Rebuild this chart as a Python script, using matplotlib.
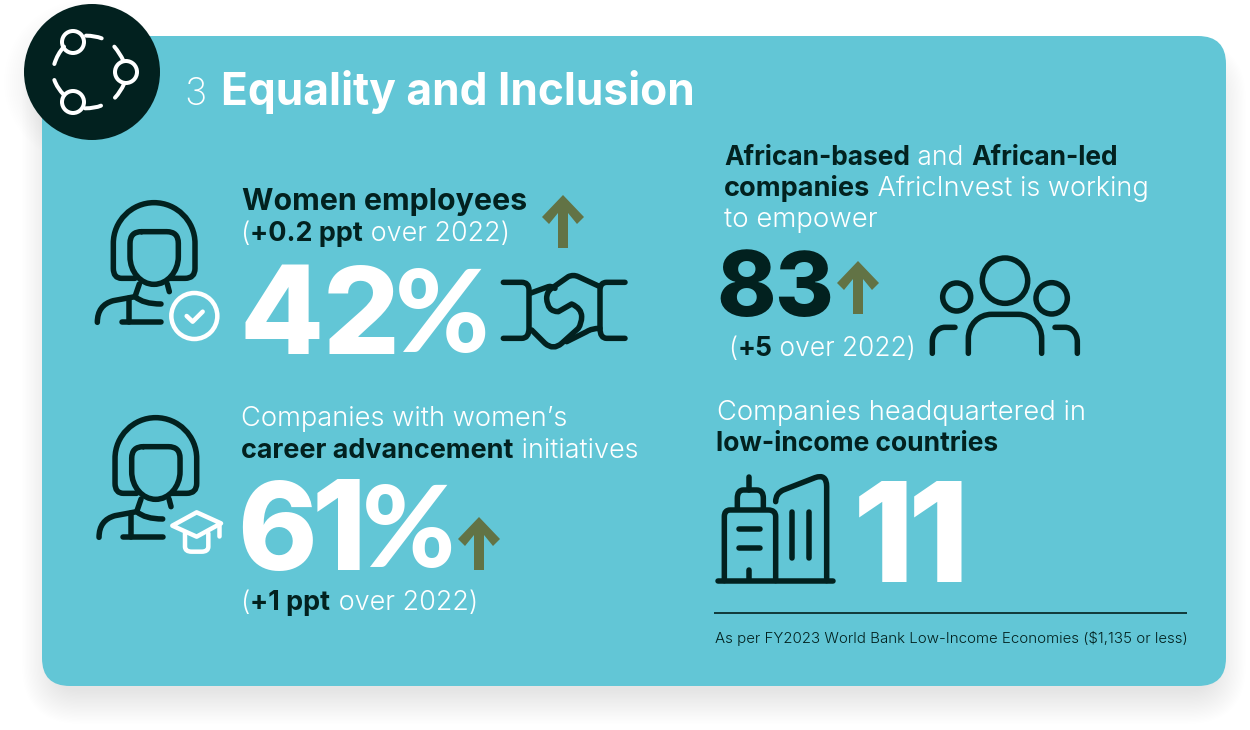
import matplotlib
matplotlib.use("Agg")
import matplotlib.pyplot as plt
from matplotlib.font_manager import FontProperties
from matplotlib.patches import FancyBboxPatch, Circle, PathPatch, Polygon
from matplotlib.path import Path
from matplotlib.text import Text
from matplotlib.textpath import TextPath

# ---- content ----
section_number = "3"
section_title = "Equality and Inclusion"
women_share = "42%"
advancement_share = "61%"
african_companies = "83"
low_income_companies = "11"
women_delta = "+0.2 ppt"
advancement_delta = "+1 ppt"
african_delta = "+5"
footnote = "As per FY2023 World Bank Low-Income Economies ($1,135 or less)"

# ---- colours ----
PANEL = "#62c6d6"
DARK = "#02211f"
ARROW = "#627345"
WHITE = "#ffffff"

BOLD = dict(family="Inter", weight=700)
LIGHT = dict(family="Inter", weight=300)
THIN = dict(family="Inter", weight=200)
HEAVY = dict(family="Inter", weight=800)
PCT = dict(family="Lato", weight=900)

fig = plt.figure(figsize=(12.5, 7.3), dpi=100, facecolor="white")
ax = fig.add_axes([0, 0, 1, 1])
ax.set_xlim(0, 1250)
ax.set_ylim(730, 0)
ax.axis("off")
renderer = fig.canvas.get_renderer()
PX = 72 / 100  # points per pixel


def measure(s, font):
    def w(t):
        o = Text(0, 0, t, fontsize=40, figure=fig, **font)
        return o.get_window_extent(renderer).width
    return w("H" + s + "H") - w("HH")


def line(x0, x1, base, runs, z=5):
    """runs = [(text, font, colour)...], fitted to span x0..x1 in pixels."""
    widths = [measure(t, f) for t, f, _ in runs]
    size = 40 * (x1 - x0) / sum(widths)
    x = x0
    for (t, f, c), wd in zip(runs, widths):
        ax.text(x, base, t, fontsize=size, color=c, va="baseline", ha="left", zorder=z, **f)
        x += wd * size / 40


def glyph(ch, font, color, left, right, top, base, fit_width=False):
    """One big character, sized from its ink height (or ink width) and placed by its ink left edge."""
    fp = FontProperties(family=font["family"], weight=font["weight"])
    ext = TextPath((0, 0), ch, size=100, prop=fp).get_extents()
    if fit_width:
        px_em = (right - left) / ext.width * 100
        off = ((base - top) - ext.height * px_em / 100) / 2
    else:
        px_em = (base - top) / ext.height * 100
        off = 0
    x = left - ext.x0 * px_em / 100
    ax.text(x, base - off, ch, fontsize=px_em * PX, color=color, va="baseline", ha="left", zorder=5, **font)


def big(value, color, lefts, rights, top, base):
    for ch, l, r in zip(value, lefts, rights):
        if ch == "%":
            glyph(ch, PCT, color, l, r, top, base, fit_width=True)
        else:
            glyph(ch, HEAVY, color, l, r, top, base)


def draw(segs, origin, color=DARK, lw=5.5, scale=1 / 3, closed=False, z=4):
    ox, oy = origin
    verts, codes = [], []
    for seg in segs:
        pts = [(ox + seg[i] * scale, oy + seg[i + 1] * scale) for i in range(0, len(seg), 2)]
        if not verts:
            verts.append(pts[0]); codes.append(Path.MOVETO)
        elif len(seg) == 2:
            verts.append(pts[0]); codes.append(Path.LINETO)
        elif len(seg) == 4:
            verts += pts; codes += [Path.CURVE3] * 2
        else:
            verts += pts; codes += [Path.CURVE4] * 3
    if closed:
        verts.append(verts[0]); codes.append(Path.CLOSEPOLY)
    ax.add_patch(PathPatch(Path(verts, codes), fill=False, edgecolor=color, lw=lw * 0.72,
                           capstyle="round", joinstyle="round", zorder=z))


def ring(cx, cy, r, color=DARK, lw=5.5, z=4):
    ax.add_patch(Circle((cx, cy), r, fill=False, edgecolor=color, lw=lw * 0.72, zorder=z))


def arrow(tip_x, tip_y):
    shape = [(0, 0), (21, 22), (14, 29), (5, 18), (5, 53), (-5, 53), (-5, 18), (-14, 29), (-21, 22)]
    ax.add_patch(Polygon([(tip_x + a, tip_y + b) for a, b in shape], closed=True,
                         facecolor=ARROW, edgecolor="none", zorder=4))


# ---- shadow, panel, badge ----
N = 26
for i in range(N):
    g = (N - i) * 1.3
    ax.add_patch(FancyBboxPatch((56 - g, 75 - g), 1156 + 2 * g, 615 + 2 * g,
                                boxstyle=f"round,pad=0,rounding_size={24 + g}",
                                facecolor="black", edgecolor="none", alpha=0.0045, zorder=1))
for i in range(12):
    g = (12 - i) * 2
    ax.add_patch(Circle((86, 82), 58 + g, facecolor="black", edgecolor="none", alpha=0.004, zorder=1))
ax.add_patch(FancyBboxPatch((42, 36), 1184, 650, boxstyle="round,pad=0,rounding_size=28",
                            facecolor=PANEL, edgecolor="none", zorder=2))
ax.add_patch(Circle((92, 72), 68, facecolor=DARK, edgecolor="none", zorder=3))

# badge icon (segments in 3x crop units)
for cx, cy in [(73, 42), (126, 72), (73, 102)]:
    ring(cx, cy, 11, WHITE, 4)
for s in [
    [(258, 107), (285, 107, 305, 115)],
    [(163, 192), (172, 162, 192, 140)],
    [(343, 140), (360, 160, 370, 182)],
    [(345, 293), (362, 275, 372, 252)],
    [(163, 240), (172, 265, 192, 285)],
    [(255, 325), (285, 325, 303, 317)],
]:
    draw(s, (0, 0), WHITE, 4)


# ---- woman icon ----
def woman(origin):
    draw([(165, 265), (125, 265), (100, 265, 100, 235), (100, 160), (100, 93, 155, 38, 222, 38),
          (290, 38, 345, 93, 345, 160), (345, 235), (345, 265, 315, 265), (270, 265)], origin)
    draw([(185, 125), (260, 125), (295, 125, 295, 160), (295, 200), (295, 245, 262, 283, 222, 283),
          (182, 283, 150, 245, 150, 200), (150, 160), (150, 125, 185, 125)], origin)
    draw([(178, 282), (165, 320), (190, 342, 243, 342)], origin)
    draw([(262, 282), (268, 305)], origin)
    draw([(52, 397), (52, 345, 100, 332), (165, 320)], origin)
    draw([(147, 325), (147, 395)], origin)
    draw([(125, 395), (243, 395)], origin)


o1 = (80, 190)
woman(o1)
ring(80 + 343 / 3, 190 + 378 / 3, 23, WHITE, 4.5)
draw([(320, 378), (338, 395), (368, 365)], o1, WHITE, 4.5)

o2 = (81.7, 405)
woman(o2)
oc = (85, 405)
draw([(262, 362), (335, 322), (408, 355), (335, 395)], oc, WHITE, 4.5, closed=True)
draw([(300, 385), (300, 425), (300, 440, 320, 440), (350, 440), (370, 440, 370, 425), (370, 385)], oc, WHITE, 4.5)
draw([(402, 355), (402, 392)], oc, WHITE, 4.5)

# ---- handshake ----
oh = (490, 180)
draw([(40, 307), (95, 307), (117, 307, 117, 330), (117, 445), (117, 475, 95, 475), (40, 475)], oh)
draw([(405, 307), (350, 307), (330, 307, 330, 330), (330, 445), (330, 475, 350, 475), (405, 475)], oh)
draw([(330, 320), (265, 290), (250, 283, 235, 290), (185, 325), (170, 335, 170, 355), (172, 395, 205, 395),
      (245, 372), (275, 385, 275, 410), (275, 430, 265, 445), (215, 490), (190, 512, 165, 490), (125, 450)], oh)
draw([(120, 340), (175, 320), (185, 317, 195, 325)], oh)
draw([(230, 485), (290, 455), (305, 445, 330, 445)], oh)

# ---- people ----
op = (920, 245)
ring(920 + 255 / 3, 245 + 107 / 3, 68 / 3)
ring(920 + 110 / 3, 245 + 156 / 3, 42 / 3)
ring(920 + 395 / 3, 245 + 160 / 3, 47 / 3)
draw([(145, 325), (145, 280), (145, 240, 175, 208, 215, 208), (295, 208), (335, 208, 365, 240, 365, 280), (365, 325)], op)
draw([(37, 325), (37, 290), (37, 265, 55, 247, 75, 247), (105, 247)], op)
draw([(405, 247), (435, 247), (455, 247, 472, 265, 472, 290), (472, 325)], op)

# ---- buildings ----
ob = (705, 465)
draw([(38, 347), (383, 347)], ob)
draw([(58, 347), (58, 155), (58, 135, 75, 135), (190, 135), (212, 135, 212, 155), (212, 347)], ob)
draw([(97, 130), (97, 100), (97, 75, 115, 75), (155, 75), (175, 75, 175, 100), (175, 130)], ob)
draw([(133, 35), (133, 75)], ob)
draw([(133, 315), (133, 345)], ob)
draw([(103, 192), (165, 192)], ob)
draw([(103, 250), (165, 250)], ob)
draw([(212, 110), (212, 85, 235, 75), (330, 38), (365, 25, 365, 65), (365, 347)], ob)
draw([(262, 140), (262, 280)], ob)
draw([(312, 140), (312, 280)], ob)

# ---- arrows ----
arrow(563, 195)
arrow(858, 261)
arrow(479, 517)

# ---- text ----
glyph(section_number, THIN, WHITE, 187, 207, 77, 105)
line(221, 696, 105, [(section_title, BOLD, WHITE)])

line(242, 527, 210, [("Women employees", BOLD, DARK)])
line(241, 510, 241, [("(", LIGHT, WHITE), (women_delta, BOLD, DARK), (" over 2022)", LIGHT, WHITE)])
big(women_share, WHITE, [245, 328, 399], [318, 389, 485], 265, 354)

line(241, 568, 426, [("Companies with women\u2019s", LIGHT, WHITE)])
line(241, 638, 458, [("career advancement", BOLD, DARK), (" initiatives", LIGHT, WHITE)])
big(advancement_share, WHITE, [242, 317, 366], [310, 355, 451], 480, 570)
line(241, 478, 610, [("(", LIGHT, WHITE), (advancement_delta, BOLD, DARK), (" over 2022)", LIGHT, WHITE)])

line(724, 1118, 165, [("African-based", BOLD, DARK), (" and ", LIGHT, WHITE), ("African-led", BOLD, DARK)])
line(724, 1149, 196, [("companies", BOLD, DARK), (" AfricInvest is working", LIGHT, WHITE)])
line(724, 878, 227, [("to empower", LIGHT, WHITE)])
big(african_companies, DARK, [720, 778], [772, 827], 249, 316)
line(728, 916, 356, [("(", LIGHT, WHITE), (african_delta, BOLD, DARK), (" over 2022)", LIGHT, WHITE)])

line(717, 1087, 420, [("Companies headquartered in", LIGHT, WHITE)])
line(716, 999, 451, [("low-income countries", BOLD, DARK)])
big(low_income_companies, WHITE, [859, 914], [902, 957], 481, 582)

ax.plot([714, 1187], [613, 613], color=DARK, lw=1.2, zorder=4, solid_capstyle="butt")
line(715, 1187, 643, [(footnote, LIGHT, DARK)])

fig.savefig("out.png", dpi=100)
